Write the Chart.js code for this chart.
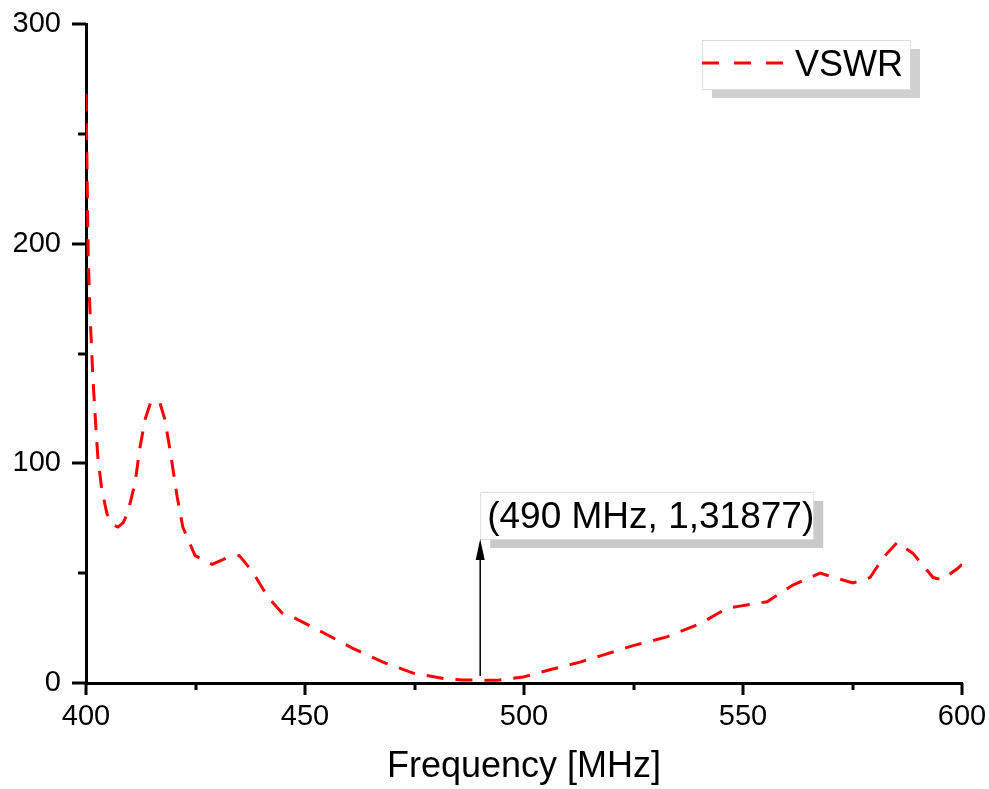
<!DOCTYPE html>
<html><head><meta charset="utf-8">
<script src="https://cdn.jsdelivr.net/npm/chart.js@4/dist/chart.umd.min.js"></script>
<style>html,body{margin:0;padding:0;background:#fff;}</style>
</head><body>
<canvas id="c" width="989" height="789"></canvas>
<script>
const freqMHz = [400, 400.5, 400.8, 401.1, 401.6, 402.3, 402.7, 403.6, 404.8, 406.2, 407.3, 408.5, 409.6, 411.2, 412.3, 413.5, 414.8, 416.8, 418, 419.2, 420.8, 422.1, 424.9, 428.8, 432.2, 435, 437.9, 441.6, 444.7, 447.7, 451.1, 454.1, 460.7, 467.8, 474.7, 482.4, 486, 490, 493.8, 499.8, 505.9, 512.8, 518, 524.9, 532.6, 540.2, 546.3, 549.3, 555.5, 561.4, 567.6, 575.1, 579, 582, 585.2, 588.8, 593.4, 595.4, 598.9, 600];
const vswr = [268, 195, 175, 160, 138, 115, 103, 88, 77, 72, 71, 73, 78, 91, 107, 120, 128, 128, 120, 106, 85, 71, 58, 54, 57, 58, 51, 39, 32, 29.5, 26, 23, 16, 9.5, 4.5, 1.8, 1.4, 1.32, 1.2, 2.7, 6, 9.5, 12.7, 17, 21, 27, 34, 35, 37, 44.6, 50, 45.5, 48, 57, 64, 59, 48, 47, 52, 54];
const xTicks = [400, 450, 500, 550, 600];
const yTicks = [0, 100, 200, 300];
const xMinorTicks = [425, 475, 525, 575];
const yMinorTicks = [50, 150, 250];
const seriesLabel = 'VSWR';
const markerFreq = 490;
const markerValue = 1.31877;
const markerText = '(490 MHz, 1,31877)';
const xTitle = 'Frequency [MHz]';

const FONT = "'Liberation Sans', Arial, sans-serif";
const points = freqMHz.map((f, i) => ({x: f, y: vswr[i]}));

const decor = {
  id: 'decor',
  afterDraw(chart) {
    const ctx = chart.ctx;
    const xs = chart.scales.x, ys = chart.scales.y;
    const ca = chart.chartArea;
    ctx.save();
    ctx.strokeStyle = '#000';
    ctx.lineWidth = 3;
    ctx.lineCap = 'butt';
    const drawX = (v, len) => {
      const p = Math.round(xs.getPixelForValue(v));
      ctx.beginPath(); ctx.moveTo(p, ca.bottom); ctx.lineTo(p, ca.bottom + len); ctx.stroke();
    };
    const drawY = (v, len) => {
      const p = Math.round(ys.getPixelForValue(v));
      ctx.beginPath(); ctx.moveTo(ca.left, p); ctx.lineTo(ca.left - len, p); ctx.stroke();
    };
    xTicks.forEach(v => drawX(v, 12));
    xMinorTicks.forEach(v => drawX(v, 7));
    yTicks.forEach(v => drawY(v, 14));
    yMinorTicks.forEach(v => drawY(v, 8));

    // annotation box
    const ax = xs.getPixelForValue(markerFreq);
    const boxL = ax, boxT = 492, boxW = 333, boxH = 47;
    ctx.fillStyle = '#c9c9c9';
    ctx.fillRect(boxL + 10, boxT + 9, boxW, boxH);
    ctx.fillStyle = '#fff';
    ctx.fillRect(boxL, boxT, boxW, boxH);
    ctx.lineWidth = 1;
    ctx.strokeStyle = '#dcdcdc';
    ctx.strokeRect(boxL + 0.5, boxT + 0.5, boxW, boxH);
    ctx.fillStyle = '#000';
    ctx.font = '37px ' + FONT;
    ctx.textBaseline = 'alphabetic';
    ctx.textAlign = 'left';
    ctx.fillText(markerText, boxL + 7, boxT + 36);

    // arrow
    const yBot = ys.getPixelForValue(markerValue) - 4;
    const yTop = boxT + boxH;
    ctx.strokeStyle = '#000';
    ctx.lineWidth = 1.5;
    ctx.beginPath(); ctx.moveTo(ax, yBot); ctx.lineTo(ax, yTop + 18); ctx.stroke();
    ctx.beginPath();
    ctx.moveTo(ax, yTop); ctx.lineTo(ax - 4.5, yTop + 21); ctx.lineTo(ax + 4.5, yTop + 21); ctx.closePath();
    ctx.fill();

    // legend
    const lL = 702, lT = 40, lW = 208, lH = 49;
    ctx.fillStyle = '#d0d0d0';
    ctx.fillRect(lL + 10, lT + 9, lW, lH);
    ctx.fillStyle = '#fff';
    ctx.fillRect(lL, lT, lW, lH);
    ctx.strokeStyle = '#dcdcdc';
    ctx.lineWidth = 1;
    ctx.strokeRect(lL + 0.5, lT + 0.5, lW, lH);
    const ds = chart.data.datasets[0];
    ctx.strokeStyle = ds.borderColor;
    ctx.lineWidth = ds.borderWidth;
    ctx.setLineDash([17, 15]);
    ctx.beginPath(); ctx.moveTo(lL, lT + 23); ctx.lineTo(lL + 84, lT + 23); ctx.stroke();
    ctx.setLineDash([]);
    ctx.fillStyle = '#000';
    ctx.font = '36px ' + FONT;
    ctx.fillText(ds.label, lL + 93, lT + 36);
    ctx.restore();
  }
};

new Chart(document.getElementById('c'), {
  type: 'line',
  data: {
    datasets: [{
      label: seriesLabel,
      data: points,
      borderColor: '#ff0000',
      borderWidth: 3,
      borderDash: [17, 12],
      pointRadius: 0,
      tension: 0,
      fill: false
    }]
  },
  options: {
    responsive: false,
    animation: false,
    devicePixelRatio: 1,
    layout: {padding: {left: 0, right: 27, top: 24, bottom: 0}},
    plugins: {legend: {display: false}, tooltip: {enabled: false}},
    scales: {
      x: {
        type: 'linear', min: 400, max: 600,
        afterBuildTicks: s => { s.ticks = xTicks.map(v => ({value: v})); },
        afterFit: s => { s.height = 106; s.paddingLeft = 0; s.paddingRight = 0; s.paddingTop = 0; s.paddingBottom = 0; },
        grid: {display: false},
        border: {display: true, color: '#000', width: 3},
        ticks: {color: '#000', font: {family: FONT, size: 29}, padding: 9, maxRotation: 0},
        title: {display: true, text: xTitle, color: '#000', font: {family: FONT, size: 36}, padding: 0}
      },
      y: {
        type: 'linear', min: 0, max: 300,
        afterBuildTicks: s => { s.ticks = yTicks.map(v => ({value: v})); },
        afterFit: s => { s.width = 86; s.paddingLeft = 0; s.paddingRight = 0; s.paddingTop = 0; s.paddingBottom = 0; },
        grid: {display: false},
        border: {display: true, color: '#000', width: 3},
        ticks: {color: '#000', font: {family: FONT, size: 29}, padding: 17}
      }
    }
  },
  plugins: [decor]
});
</script>
</body></html>
